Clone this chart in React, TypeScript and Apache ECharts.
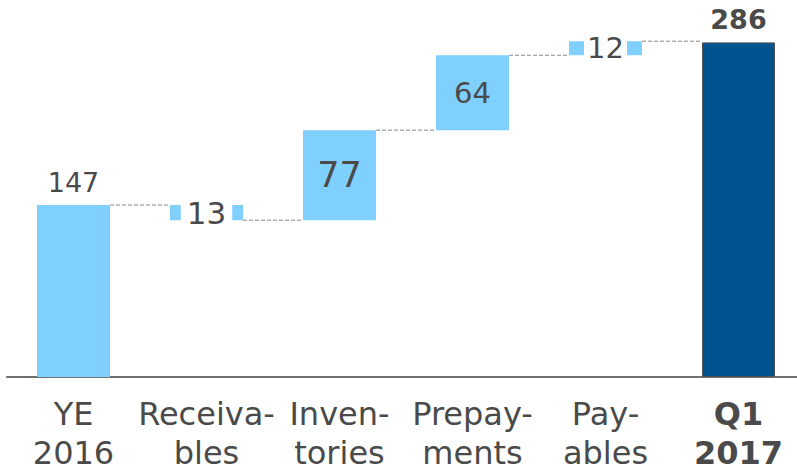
import React, { useEffect, useRef } from "react";
import * as echarts from "echarts";

const categories = ["YE\n2016", "Receiva-\nbles", "Inven-\ntories", "Prepay-\nments", "Pay-\nables", "Q1\n2017"];
const changes = [147, -13, 77, 64, 12, 286];
const labels = ["147", "13", "77", "64", "12", "286"];
const kinds = ["total", "delta", "delta", "delta", "delta", "total"];

const FONT = "DejaVu Sans, Verdana, sans-serif";
const TEXT = "#4a4a4a";
const LIGHT = "#80D0FF";
const DARK = "#00538F";
const BAR_W = 73;

export default function App() {
  const ref = useRef<HTMLDivElement>(null);
  useEffect(() => {
    if (!ref.current) return;
    const chart = echarts.init(ref.current, undefined, { renderer: "svg" });

    const base: number[] = [];
    const heights: number[] = [];
    const tops: number[] = [];
    let run = 0;
    changes.forEach((c, i) => {
      if (kinds[i] === "total") {
        base.push(0);
        heights.push(c);
        run = c;
        tops.push(c);
      } else {
        const next = run + c;
        base.push(Math.min(run, next));
        heights.push(Math.abs(c));
        run = next;
        tops.push(next);
      }
    });

    const labelCfg: any[] = [
      { show: true, position: "top", distance: 9, fontSize: 27, color: TEXT, fontFamily: FONT },
      { show: true, position: "inside", fontSize: 31, color: TEXT, fontFamily: FONT, backgroundColor: "#ffffff", padding: [2, 6, 0, 6] },
      { show: true, position: "inside", fontSize: 35, color: TEXT, fontFamily: FONT },
      { show: true, position: "inside", fontSize: 29, color: TEXT, fontFamily: FONT },
      { show: true, position: "inside", fontSize: 29, color: TEXT, fontFamily: FONT, backgroundColor: "#ffffff", padding: [2, 3, 0, 3] },
      { show: true, position: "top", distance: 9, fontSize: 27, fontWeight: "bold", color: TEXT, fontFamily: FONT },
    ];

    const visData = heights.map((h, i) => ({
      value: h,
      itemStyle:
        i === 5
          ? { color: DARK, borderColor: "#505050", borderWidth: 1 }
          : { color: LIGHT },
      label: { ...labelCfg[i], formatter: labels[i] },
    }));

    const connectorData = tops.slice(0, 5).map((t, i) => [i, t]);

    chart.setOption({
      animation: false,
      grid: { left: 7, right: 1, top: 26, bottom: 92 },
      xAxis: {
        type: "category",
        data: categories.map((c, i) =>
          i === 5 ? { value: c, textStyle: { fontWeight: "bold" } } : { value: c }
        ),
        axisLine: { show: true, lineStyle: { color: "#707070", width: 2 } },
        axisTick: { show: false },
        axisLabel: {
          interval: 0,
          fontSize: 32,
          lineHeight: 39,
          color: TEXT,
          fontFamily: FONT,
          margin: 17,
        },
      },
      yAxis: {
        type: "value",
        min: 0,
        max: 300,
        show: false,
        splitLine: { show: false },
      },
      series: [
        {
          type: "bar",
          stack: "wf",
          barWidth: BAR_W,
          data: base,
          itemStyle: { color: "transparent" },
          silent: true,
        },
        {
          type: "bar",
          stack: "wf",
          barWidth: BAR_W,
          data: visData,
        },
        {
          type: "custom",
          data: connectorData,
          encode: { x: 0, y: 1 },
          z: 1,
          renderItem: (params: any, api: any) => {
            const i = api.value(0);
            const v = api.value(1);
            const p1 = api.coord([i, v]);
            const p2 = api.coord([i + 1, v]);
            return {
              type: "line",
              shape: {
                x1: p1[0] + BAR_W / 2,
                y1: p1[1],
                x2: p2[0] - BAR_W / 2,
                y2: p2[1],
              },
              style: { stroke: "#8a8a8a", lineWidth: 1, lineDash: [4, 2] },
            };
          },
        },
      ],
    });
    return () => chart.dispose();
  }, []);
  return (
    <div style={{ width: 797, height: 472, position: "absolute", left: 0, top: 0, overflow: "hidden" }}>
      <div ref={ref} style={{ width: 806, height: 472 }} />
    </div>
  );
}
